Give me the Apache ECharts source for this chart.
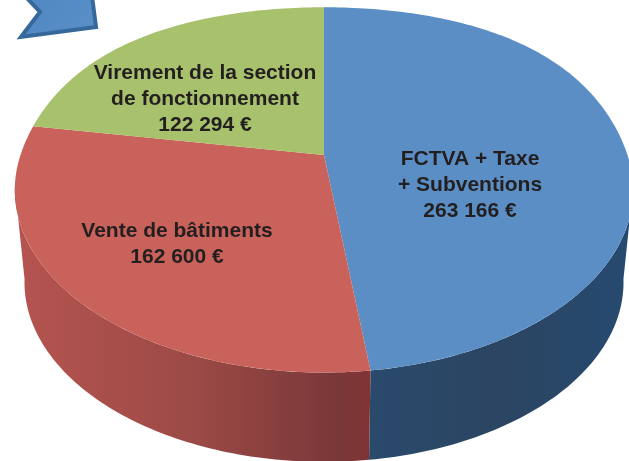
<!DOCTYPE html>
<html>
<head>
<meta charset="utf-8">
<style>
html, body { margin: 0; padding: 0; background: #fff; }
#chart { width: 629px; height: 461px; }
</style>
<script src="https://cdn.jsdelivr.net/npm/echarts@6/dist/echarts.min.js"></script>
</head>
<body>
<div id="chart"></div>
<script>
//values of the pie
var sliceNames = [['FCTVA + Taxe', '+ Subventions'], ['Vente de bâtiments'], ['Virement de la section', 'de fonctionnement']];
var sliceValues = [263166, 162600, 122294];
var sliceLabels = ['263 166 €', '162 600 €', '122 294 €'];

var total = sliceValues.reduce(function (a, b) { return a + b; }, 0);

//colors
var topColors = ['#5b8ec4', '#c9625a', '#a8c16c'];
var wallColors = [
    [[0, '#2a4a6c'], [0.5, '#2b4562'], [1, '#264a70']],
    [[0, '#b65450'], [0.5, '#9c4a46'], [0.9, '#7a3838'], [1, '#803434']],
    [[0, '#7d9150'], [1, '#7d9150']]
];

//where each label block is centered
var labelCenters = [[470, 185], [177, 244], [205, 99]];

//perspective of the disc
var persp = 0.191;
var backBulge = 0.12; //the back of the disc is a bit fuller than true perspective
var topDisc = { cx: 324, cy: 155, a: 303.5, b: 176 };
var bottomDisc = { cx: 324, cy: 248, a: 294, b: 173 };
//only this part of the rim shows its wall (degrees, clockwise from the back)
var wallRange = [100, 260];

function project(disc, deg) {
    var rad = deg * Math.PI / 180;
    var x = Math.sin(rad);
    var y = -Math.cos(rad);
    var w = 1 - persp * y;
    var bulge = y < 0 ? 1 + backBulge * y * y : 1;
    return [disc.cx + disc.a * x * bulge / w, disc.cy + disc.b * y / w];
}

function rimPoints(disc, from, to) {
    var pts = [];
    var n = Math.max(2, Math.ceil(Math.abs(to - from)));
    for (var i = 0; i <= n; i++) {
        pts.push(project(disc, from + (to - from) * i / n));
    }
    return pts;
}

function renderSlice(params, api) {
    var i = params.dataIndex;
    var before = 0;
    for (var k = 0; k < i; k++) {
        before += sliceValues[k];
    }
    var from = before / total * 360;
    var to = (before + api.value(0)) / total * 360;
    var children = [];

    //side wall
    var wallFrom = Math.max(from, wallRange[0]);
    var wallTo = Math.min(to, wallRange[1]);
    if (wallTo > wallFrom) {
        var wall = rimPoints(topDisc, wallFrom, wallTo).concat(rimPoints(bottomDisc, wallTo, wallFrom));
        children.push({
            type: 'polygon',
            z2: 1,
            shape: { points: wall },
            style: {
                fill: {
                    type: 'linear', x: 0, y: 0, x2: 1, y2: 0,
                    colorStops: wallColors[i].map(function (s) { return { offset: s[0], color: s[1] }; })
                }
            }
        });
    }

    //top face
    var face = [[topDisc.cx, topDisc.cy]].concat(rimPoints(topDisc, from, to));
    children.push({
        type: 'polygon',
        z2: 2,
        shape: { points: face },
        style: { fill: topColors[i] }
    });

    //label
    children.push({
        type: 'text',
        z2: 3,
        x: labelCenters[i][0],
        y: labelCenters[i][1],
        style: {
            text: sliceNames[i].concat(sliceLabels[i]).join('\n'),
            font: 'bold 21px "Liberation Sans", Arial, sans-serif',
            lineHeight: 26,
            fill: '#231f20',
            align: 'center',
            verticalAlign: 'middle'
        }
    });
    return { type: 'group', children: children };
}

var chart = echarts.init(document.getElementById('chart'));
chart.setOption({
    animation: false,
    backgroundColor: '#ffffff',
    graphic: [{
        //arrow cut by the top of the picture
        type: 'polygon',
        shape: { points: [[25, -4], [40, 12], [21, 37], [96, 27], [92, -4]] },
        style: {
            fill: { type: 'linear', x: 0, y: 0, x2: 1, y2: 1, colorStops: [
                { offset: 0, color: '#4f87c2' }, { offset: 1, color: '#5b90c8' }
            ] },
            stroke: '#36699b',
            lineWidth: 4,
            lineJoin: 'miter'
        }
    }],
    series: [{
        type: 'custom',
        coordinateSystem: 'none',
        silent: true,
        renderItem: renderSlice,
        data: sliceValues.map(function (v) { return [v]; })
    }]
});
</script>
</body>
</html>
